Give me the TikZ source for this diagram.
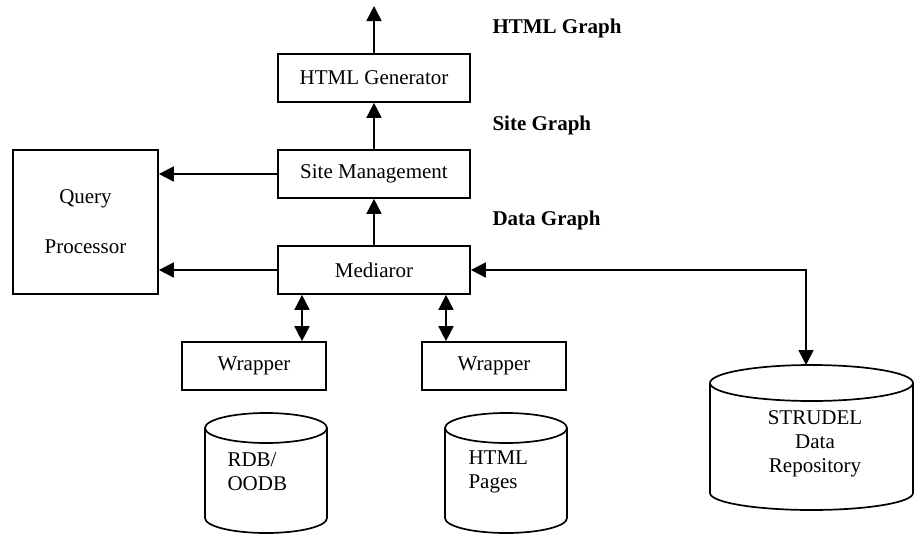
\documentclass[tikz,border=0pt]{standalone}
\usepackage{fontspec}
\setmainfont{Liberation Serif}
\usetikzlibrary{arrows.meta}
\tikzset{
  every node/.style={font=\fontsize{21}{24}\selectfont},
  blockbox/.style={draw, line width=1.7pt, inner sep=0pt, minimum width=192pt, minimum height=48pt},
  flow/.style={line width=1.7pt, -{Triangle[length=15pt,width=15pt]}},
  dflow/.style={line width=1.7pt, {Triangle[length=15pt,width=15pt]}-{Triangle[length=15pt,width=15pt]}},
  graphlabel/.style={anchor=west, font=\fontsize{21}{24}\selectfont\bfseries},
  dbline/.style={line width=1.7pt}
}
\begin{document}
\begin{tikzpicture}[x=1pt, y=1pt]
  \useasboundingbox (0,0) rectangle (915,-533);

  % processing pipeline
  \node[blockbox] (gen) at (374,-78) {HTML Generator};
  \node[blockbox] (site) at (374,-174) {Site Management};
  \node[blockbox] (med) at (374,-270) {Mediaror};
  \node[blockbox, minimum width=145pt, minimum height=144pt, align=center] (qp) at (85.5,-222) {Query\\[26pt]Processor};
  \node[blockbox, minimum width=144pt] (w1) at (254,-366) {Wrapper};
  \node[blockbox, minimum width=144pt] (w2) at (494,-366) {Wrapper};

  % graph labels
  \node[graphlabel] (lhtml) at (489,-28) {HTML Graph};
  \node[graphlabel] (lsite) at (489,-125) {Site Graph};
  \node[graphlabel] (ldata) at (489,-220) {Data Graph};

  % data sources
  \draw[dbline] (266,-428) ellipse [x radius=61pt, y radius=15pt];
  \draw[dbline] (205,-428) -- (205,-518) arc[start angle=180, end angle=360, x radius=61pt, y radius=15pt] -- (327,-428);
  \node[anchor=west, align=left] (rdb) at (224,-472) {RDB/\\OODB};

  \draw[dbline] (506,-428) ellipse [x radius=61pt, y radius=15pt];
  \draw[dbline] (445,-428) -- (445,-518) arc[start angle=180, end angle=360, x radius=61pt, y radius=15pt] -- (567,-428);
  \node[anchor=west, align=left] (pages) at (465,-472) {HTML\\Pages};

  \draw[dbline] (811.5,-383) ellipse [x radius=101.5pt, y radius=18pt];
  \draw[dbline] (710,-383) -- (710,-493) arc[start angle=180, end angle=360, x radius=101.5pt, y radius=17pt] -- (913,-383);
  \node[align=center] (repo) at (815,-444) {STRUDEL\\Data\\Repository};
  \coordinate (repotop) at (806,-365);
  \coordinate (out) at (374,-6);

  % connectors
  \draw[flow] (gen.north) -- (out);
  \draw[flow] (site.north) -- (gen.south);
  \draw[flow] (med.north) -- (site.south);
  \draw[flow] (site.west) -- (site.west -| qp.east);
  \draw[flow] (med.west) -- (med.west -| qp.east);
  \draw[dflow] ([xshift=48pt]w1.north |- med.south) -- ([xshift=48pt]w1.north);
  \draw[dflow] ([xshift=-48pt]w2.north |- med.south) -- ([xshift=-48pt]w2.north);
  \draw[dflow] (med.east) -| (repotop);
\end{tikzpicture}
\end{document}
